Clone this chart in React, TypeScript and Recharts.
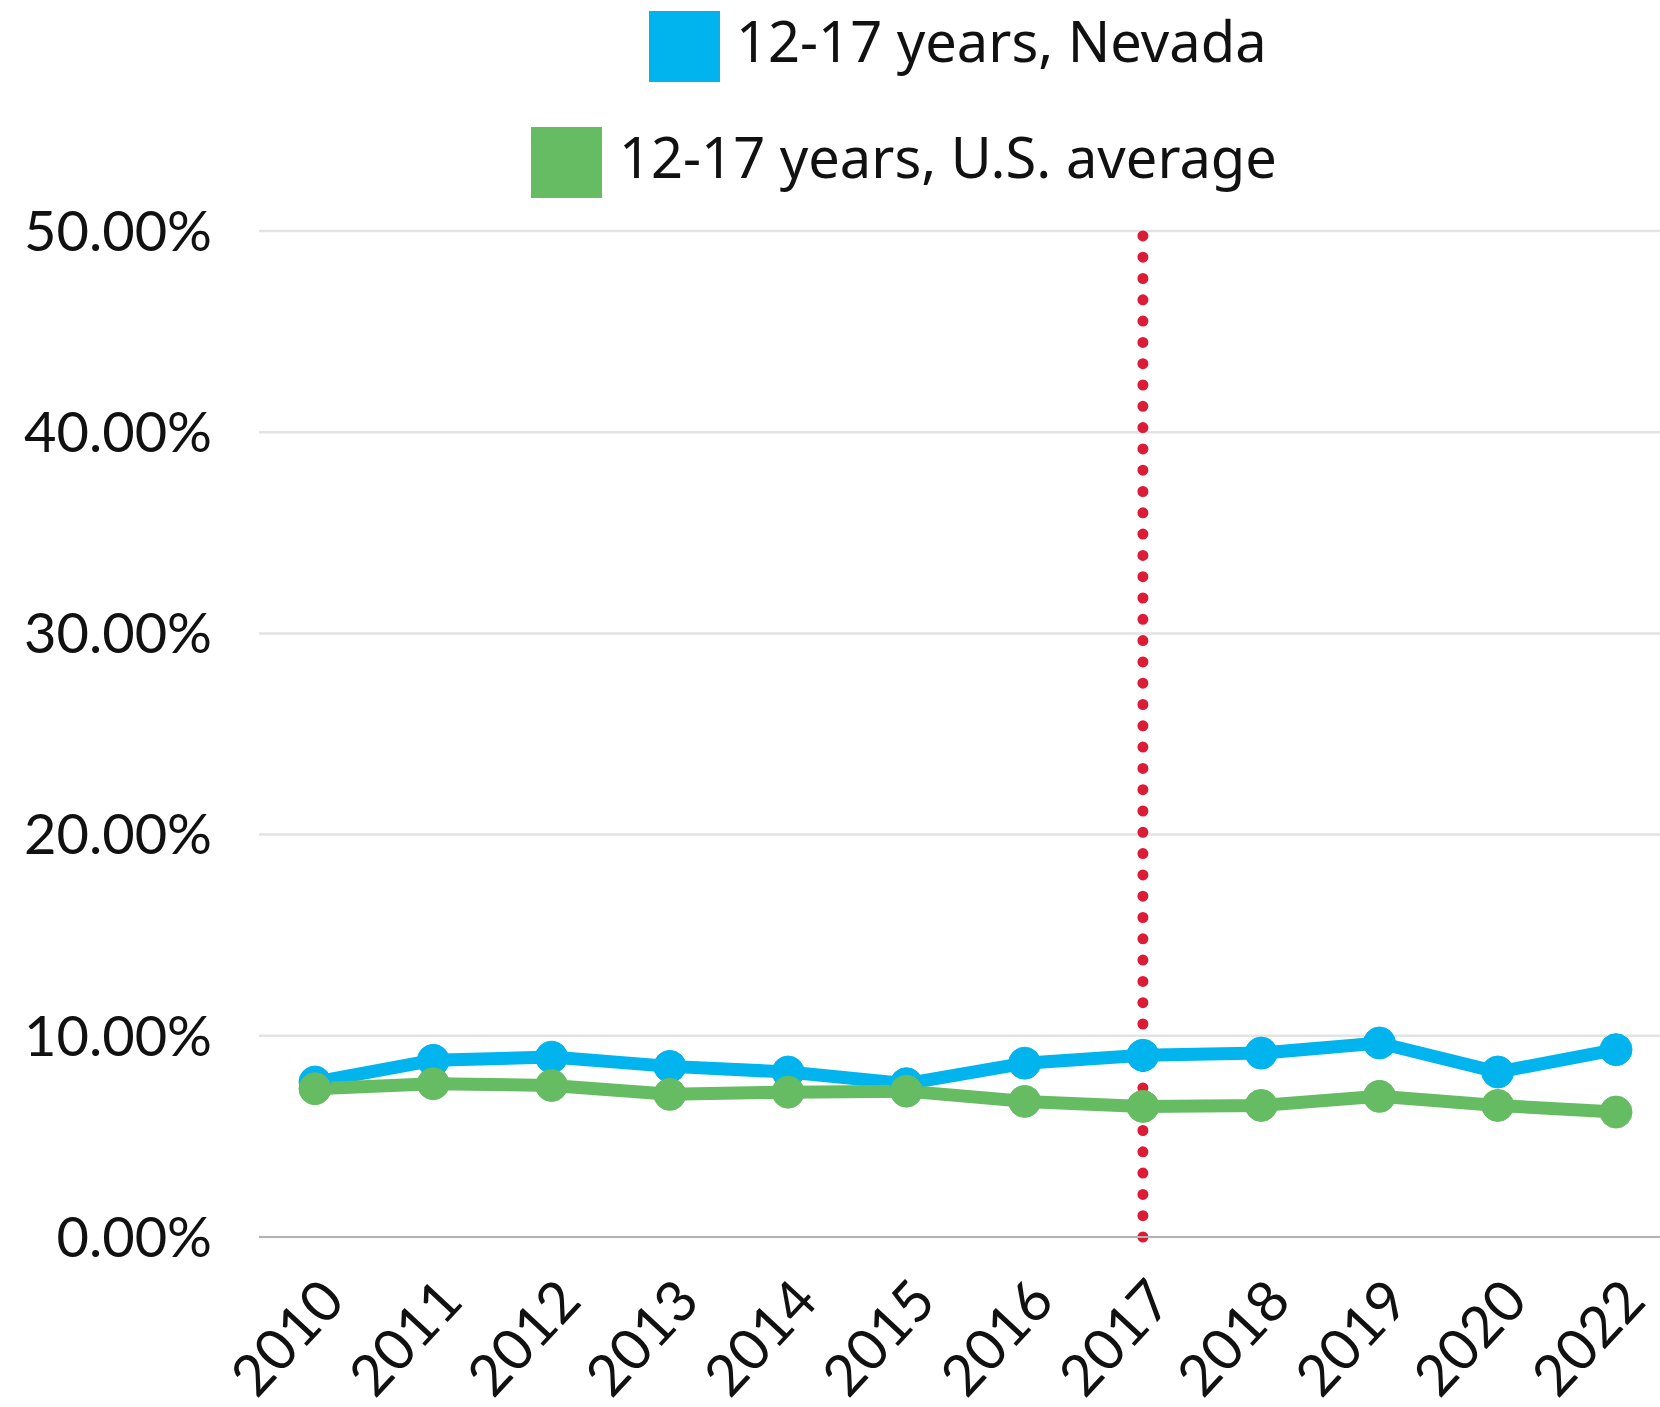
import React from "react";
import {
  CartesianGrid,
  Legend,
  Line,
  LineChart,
  ReferenceLine,
  XAxis,
  YAxis
} from "recharts";

const years = [
  "2010", "2011", "2012", "2013", "2014", "2015",
  "2016", "2017", "2018", "2019", "2020", "2022"
];
const nevada = [7.7, 8.78, 8.94, 8.48, 8.2, 7.62, 8.64, 9.03, 9.14, 9.64, 8.2, 9.31];
const usAverage = [7.37, 7.62, 7.53, 7.09, 7.2, 7.25, 6.74, 6.49, 6.54, 6.99, 6.54, 6.21];
const yTicks = [0, 10, 20, 30, 40, 50];

const seriesNames = ["12-17 years, Nevada", "12-17 years, U.S. average"];
const seriesColors = ["#02b4ed", "#66bc62"];
const markerYear = "2017";

const data = years.map((year, i) => ({
  year,
  nevada: nevada[i],
  us: usAverage[i]
}));

const axisFont = "Lato, 'Noto Sans', sans-serif";

// legend rows sit at fixed spots, like the original export
const legendSpots = [
  { square: 649, text: 736, top: 11 },
  { square: 531, text: 619, top: 127 }
];

const renderLegend = () => (
  <div style={{ position: "relative", width: 1660, height: 210 }}>
    {seriesNames.map((name, i) => (
      <div key={name}>
        <div
          style={{
            position: "absolute",
            left: legendSpots[i].square,
            top: legendSpots[i].top,
            width: 71,
            height: 71,
            background: seriesColors[i]
          }}
        />
        <span
          style={{
            position: "absolute",
            left: legendSpots[i].text,
            top: legendSpots[i].top + 1,
            fontFamily: "'Noto Sans', sans-serif",
            fontSize: 56,
            lineHeight: "56px",
            color: "#111",
            whiteSpace: "nowrap"
          }}
        >
          {name}
        </span>
      </div>
    ))}
  </div>
);

const YearTick = (props: any) => {
  const { x, y, payload } = props;
  const ax = x + 32;
  const ay = y + 58;
  return (
    <text
      x={ax}
      y={ay}
      transform={`rotate(-47, ${ax}, ${ay})`}
      textAnchor="end"
      fontFamily={axisFont}
      fontSize={57}
      fill="#111"
    >
      {payload.value}
    </text>
  );
};

export default function App() {
  return (
    <div
      style={{
        position: "absolute",
        left: 0,
        top: 0,
        width: 1660,
        height: 1407,
        overflow: "hidden",
        background: "#fff"
      }}
    >
      <LineChart
        width={1660}
        height={1407}
        data={data}
        margin={{ top: 21, right: 0, bottom: 0, left: 0 }}
      >
        <Legend
          verticalAlign="top"
          content={renderLegend}
          wrapperStyle={{ top: 0, left: 0 }}
        />
        <CartesianGrid vertical={false} stroke="#e3e3e3" strokeWidth={2.5} />
        <XAxis
          dataKey="year"
          height={170}
          padding={{ left: 56, right: 44 }}
          tickLine={false}
          axisLine={{ stroke: "#b3b3b3", strokeWidth: 2 }}
          tick={<YearTick />}
          interval={0}
        />
        <YAxis
          width={259}
          domain={[0, 50]}
          ticks={yTicks}
          tickFormatter={(v: number) => `${v.toFixed(2)}%`}
          axisLine={false}
          tickLine={false}
          tickSize={0}
          tickMargin={47}
          tick={{ fontFamily: axisFont, fontSize: 56, fill: "#111" }}
        />
        <Line
          dataKey="nevada"
          name={seriesNames[0]}
          stroke={seriesColors[0]}
          strokeWidth={13}
          dot={{ r: 16, fill: seriesColors[0], stroke: seriesColors[0], strokeWidth: 1 }}
          activeDot={false}
          isAnimationActive={false}
        />
        <Line
          dataKey="us"
          name={seriesNames[1]}
          stroke={seriesColors[1]}
          strokeWidth={13}
          dot={{ r: 16, fill: seriesColors[1], stroke: seriesColors[1], strokeWidth: 1 }}
          activeDot={false}
          isAnimationActive={false}
        />
        <ReferenceLine
          x={markerYear}
          stroke="#dc1c36"
          strokeWidth={11}
          strokeDasharray="0 21.3"
          strokeLinecap="round"
        />
      </LineChart>
    </div>
  );
}
